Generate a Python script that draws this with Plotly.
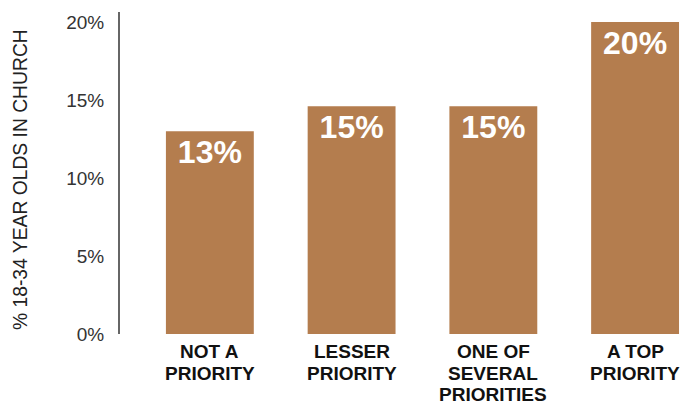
import plotly.graph_objects as go

categories = ["NOT A<br>PRIORITY", "LESSER<br>PRIORITY", "ONE OF<br>SEVERAL<br>PRIORITIES", "A TOP<br>PRIORITY"]
values = [13.0, 14.6, 14.6, 20.0]
labels = ["13%", "15%", "15%", "20%"]
y_ticks = [0, 5, 10, 15, 20]
y_ticktext = ["0%", "5%", "10%", "15%", "20%"]

BAR = "#B47D4E"
W, H = 681, 404
L, R, T, B = 120, 0, 12, 70

xs = list(range(len(categories)))
fig = go.Figure(go.Bar(
    x=xs, y=values, text=labels, width=0.62,
    marker=dict(color=BAR, line=dict(width=0)),
    textposition="inside", insidetextanchor="end", textangle=0,
    constraintext="none",
    textfont=dict(family="Liberation Sans, Arial, sans-serif", size=32, color="white", weight="bold"),
    hoverinfo="skip",
))

annotations = []
for i, cat in enumerate(categories):
    for j, line in enumerate(cat.split("<br>")):
        annotations.append(dict(
            x=i, xref="x", y=0, yref="y", yanchor="top", yshift=-5 - 21.5 * j,
            text=f"<b>{line}</b>", showarrow=False,
            font=dict(family="Liberation Sans, Arial, sans-serif", size=19, color="#111"),
        ))
annotations.append(dict(
    x=(20 - L) / (W - L - R), xref="paper", y=(H - B - 180) / (H - B - T), yref="paper",
    text="% 18-34 YEAR OLDS IN CHURCH", textangle=-90, showarrow=False,
    xanchor="center", yanchor="middle",
    font=dict(family="Liberation Sans, Arial, sans-serif", size=19.3, color="#222"),
))

fig.update_layout(
    width=W, height=H, margin=dict(l=L, r=R, t=T, b=B),
    paper_bgcolor="white", plot_bgcolor="white", showlegend=False,
    bargap=0.38, annotations=annotations,
    xaxis=dict(range=[-0.634, 3.324], showticklabels=False, showgrid=False, zeroline=False,
               showline=False, ticks=""),
    yaxis=dict(range=[0, 20.64], tickvals=y_ticks, ticktext=y_ticktext, showgrid=False,
               zeroline=False, showline=True, linecolor="#666", linewidth=2, ticks="",
               ticklabelstandoff=10,
               tickfont=dict(family="Liberation Sans, Arial, sans-serif", size=19, color="#333")),
)
fig.write_html("out.html")
